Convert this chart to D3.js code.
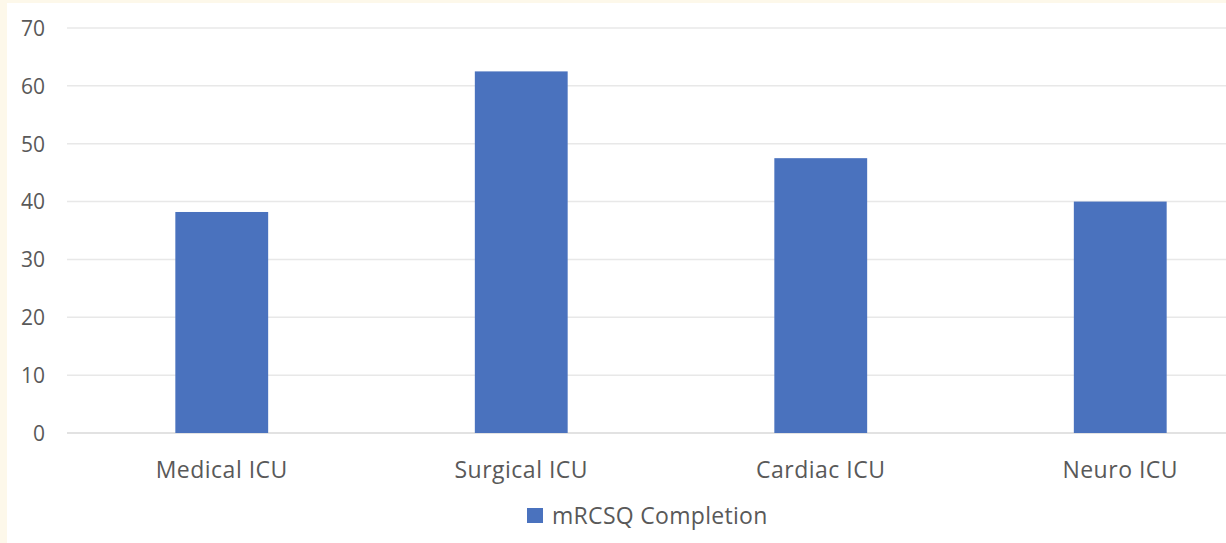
<!DOCTYPE html>
<html>
<head>
<meta charset="utf-8">
<script src="https://cdn.jsdelivr.net/npm/d3@7"></script>
<style>
  html, body { margin: 0; padding: 0; background: #fdf8ea; }
  svg { display: block; }
  text { font-family: "Open Sans", "Noto Sans", sans-serif; fill: #595959; }
</style>
</head>
<body>
<svg id="chart" width="1226" height="543"></svg>
<script>
// Chart data
const categories = ["Medical ICU", "Surgical ICU", "Cardiac ICU", "Neuro ICU"];
const completion = [38.2, 62.5, 47.5, 40];
const yTicks = [0, 10, 20, 30, 40, 50, 60, 70];
const seriesName = "mRCSQ Completion";

const W = 1226, H = 543;
const svg = d3.select("#chart");

// white chart area inside the cream frame
svg.append("rect").attr("x", 7).attr("y", 3).attr("width", W - 7).attr("height", H - 3).attr("fill", "#ffffff");

const x = d3.scaleBand()
  .domain(categories)
  .range([72, 1270])
  .paddingInner(0.69)
  .paddingOuter(0.345);

const y = d3.scaleLinear().domain([0, 70]).range([433, 28]);

// gridlines
svg.append("g")
  .selectAll("line")
  .data(yTicks)
  .join("line")
  .attr("x1", 67).attr("x2", W)
  .attr("y1", d => y(d)).attr("y2", d => y(d))
  .attr("stroke", d => d === 0 ? "#d9d9d9" : "#e8e8e8")
  .attr("stroke-width", 1.5);

// y axis labels
const yAxis = d3.axisLeft(y).tickValues(yTicks).tickSize(0).tickPadding(0);
const gy = svg.append("g").attr("transform", "translate(45,0)").call(yAxis);
gy.select(".domain").remove();
gy.selectAll("text")
  .attr("font-size", 21)
  .attr("font-family", "Open Sans, sans-serif")
  .attr("fill", "#595959")
  .attr("dy", "0.35em");

// bars
svg.append("g")
  .selectAll("rect")
  .data(categories.map((c, i) => ({ c, v: completion[i] })))
  .join("rect")
  .attr("x", d => x(d.c))
  .attr("width", x.bandwidth())
  .attr("y", d => y(d.v))
  .attr("height", d => y(0) - y(d.v))
  .attr("fill", "#4a72be");

// category labels
const xAxis = d3.axisBottom(x).tickSize(0).tickPadding(0);
const gx = svg.append("g").attr("transform", "translate(0,478)").call(xAxis);
gx.select(".domain").remove();
gx.selectAll("text")
  .attr("y", 0)
  .attr("dy", 0)
  .attr("font-size", 23)
  .attr("letter-spacing", 0.5)
  .attr("font-family", "Open Sans, sans-serif")
  .attr("fill", "#595959");

// legend
const legend = svg.append("g");
legend.append("rect")
  .attr("x", 527).attr("y", 508).attr("width", 16).attr("height", 15)
  .attr("fill", "#4a72be");
legend.append("text")
  .attr("x", 552).attr("y", 524)
  .attr("font-size", 23)
  .attr("letter-spacing", 0.3)
  .text(seriesName);
</script>
</body>
</html>
